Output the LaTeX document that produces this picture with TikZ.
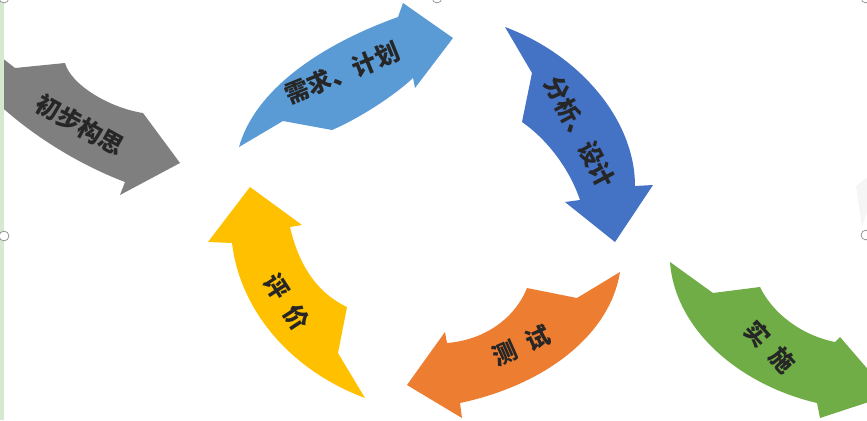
\documentclass[tikz,border=0pt]{standalone}
\usepackage{fontspec}
\newfontfamily\cjk{Noto Sans CJK SC}
\definecolor{grijs}{HTML}{7F7F7F}
\definecolor{lichtblauw}{HTML}{5B9BD5}
\definecolor{donkerblauw}{HTML}{4472C4}
\definecolor{geel}{HTML}{FFC000}
\definecolor{oranje}{HTML}{ED7D31}
\definecolor{groen}{HTML}{70AD47}
\definecolor{rand}{HTML}{D5E8D0}
\newcommand{\tussen}{\hspace{0.5em}}
\begin{document}
\begin{tikzpicture}[x=0.02cm, y=-0.02cm,
    tekst/.style={font=\cjk\bfseries\fontsize{13.8}{15}\selectfont, text=black!85, inner sep=0pt},
    handvat/.style={draw=black!45, fill=white, line width=0.4pt}]
\clip (0,0) rectangle (867,420);
\fill[white] (0,0) rectangle (867,420);

% gebogen pijlen, coordinaten in pixels
\fill[grijs] (-8,50) -- (15,68) -- (65,63) .. controls (71,85) and (110,108) .. (143,113) -- (180,163) -- (120,195) -- (125,182) .. controls (80,165) and (30,135) .. (-8,98) -- cycle;
\fill[lichtblauw] (239,147) -- (283,121) -- (332,130) .. controls (360,118) and (395,95) .. (413,78) -- (415,88) -- (453,38) -- (403,3) -- (398,17) .. controls (320,45) and (255,90) .. (239,147) -- cycle;
\fill[donkerblauw] (505,27) -- (532,73) -- (522,122) .. controls (548,140) and (570,170) .. (580,200) -- (565,202) -- (615,242) -- (653,185) -- (635,186) .. controls (635,120) and (580,55) .. (505,27) -- cycle;
\fill[geel] (250,187) -- (302,225) -- (290,227) .. controls (298,262) and (315,292) .. (347,307) -- (338,353) -- (365,398) .. controls (290,370) and (240,310) .. (232,243) -- (208,242) -- cycle;
\fill[oranje] (620,272) -- (577,298) -- (527,288) .. controls (515,318) and (485,340) .. (447,343) -- (445,332) -- (407,385) -- (462,418) -- (460,403) .. controls (545,385) and (610,335) .. (620,272) -- cycle;
\fill[groen] (670,262) -- (713,293) -- (760,287) .. controls (772,312) and (800,335) .. (835,342) -- (840,337) -- (890,395) -- (820,418) -- (817,403) .. controls (740,385) and (675,330) .. (670,262) -- cycle;

\node[tekst, rotate=-29] (idee) at (80,125) {初步构思};
\node[tekst, rotate=22] (eisen) at (342,73) {需求、计划};
\node[tekst, rotate=-62] (ontwerp) at (580,132) {分析、设计};
\node[tekst, rotate=-47] (uitvoering) at (770,347) {实\tussen 施};
\node[tekst, rotate=24] (test) at (521,346) {测\tussen 试};
\node[tekst, rotate=-57] (evaluatie) at (287,302) {评\tussen 价};

% selectierand
\fill[rand] (0,0) rectangle (4,420);
\fill[black!4] (856,186) -- (867,178) -- (867,212) -- (862,226) -- cycle;
\draw[handvat] (4,236) circle [radius=2.8pt];
\draw[handvat] (866,235) circle [radius=2.8pt];
\draw[handvat] (4,-2) circle [radius=2.8pt];
\draw[handvat] (437,-2) circle [radius=2.8pt];
\draw[handvat] (866,-2) circle [radius=2.8pt];
\end{tikzpicture}
\end{document}
